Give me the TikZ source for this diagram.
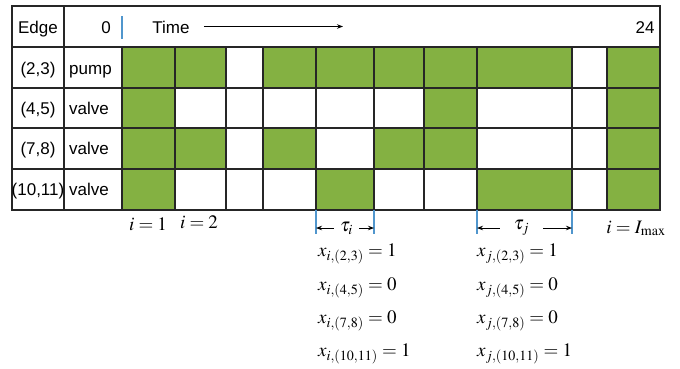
\documentclass[tikz,border=0pt]{standalone}
\usepackage{mathptmx}
\usepackage{fontspec}
\setmainfont{Liberation Sans}
\usetikzlibrary{arrows.meta}

\definecolor{cellgreen}{RGB}{132,177,66}
\definecolor{tickblue}{RGB}{80,150,205}

\begin{document}
\begin{tikzpicture}[
    x=1pt, y=-1pt,
    font=\fontsize{17}{19}\selectfont,
    >={Stealth[length=6pt,width=4.5pt]},
    txt/.style={anchor=base, inner sep=0pt},
    on/.style={fill=cellgreen},
    grid/.style={draw=black!85, line width=1.2pt},
    tick/.style={draw=tickblue, line width=1.2pt},
    span/.style={inner sep=0pt, font=\fontsize{19}{21}\selectfont},
    eq/.style={anchor=base west, inner sep=0pt, font=\fontsize{19}{21}\selectfont},
    arr/.style={->, line width=0.9pt},
  ]
    \useasboundingbox (0,0) rectangle (680,368);

    % --- green cells ---
    \fill[on] (122,47) rectangle (226,88);
    \fill[on] (263,47) rectangle (572,88);
    \fill[on] (607,47) rectangle (660,88);

    \fill[on] (122,88) rectangle (175,128);
    \fill[on] (424,88) rectangle (477,128);
    \fill[on] (607,88) rectangle (660,128);

    \fill[on] (122,128) rectangle (226,169);
    \fill[on] (263,128) rectangle (316,169);
    \fill[on] (374,128) rectangle (477,169);
    \fill[on] (607,128) rectangle (660,169);

    \fill[on] (122,169) rectangle (175,210);
    \fill[on] (316,169) rectangle (374,210);
    \fill[on] (477,169) rectangle (572,210);
    \fill[on] (607,169) rectangle (660,210);

    % --- grid ---
    \draw[grid] (12,6) rectangle (660,210);
    \draw[grid] (12,47) -- (660,47);
    \draw[grid] (12,88) -- (660,88);
    \draw[grid] (12,128) -- (660,128);
    \draw[grid] (12,169) -- (660,169);
    \draw[grid] (64,6) -- (64,210);
    \foreach \gx in {122,175,226,263,316,374,424,477,572,607}
      \draw[grid] (\gx,47) -- (\gx,210);

    % --- blue ticks ---
    \draw[tick] (122,16) -- (122,39);
    \draw[tick] (316,210) -- (316,234);
    \draw[tick] (374,210) -- (374,234);
    \draw[tick] (477,210) -- (477,234);
    \draw[tick] (572,210) -- (572,234);

    % --- header ---
    \node[txt] (edge) at (38,33) {Edge};
    \node[txt, anchor=base east] (zero) at (111,33) {0};
    \node[txt] (time) at (171,33) {Time};
    \node[txt] (end) at (645,33) {24};
    \coordinate (tend) at (343,26.5);
    \draw[arr, shorten <=14pt] (time.east |- tend) -- (tend);

    % --- row labels ---
    \node[txt] (e23) at (38,74) {(2,3)};
    \node[txt, anchor=base west] (t23) at (69,74) {pump};
    \node[txt] (e45) at (38,114) {(4,5)};
    \node[txt, anchor=base west] (t45) at (69,114) {valve};
    \node[txt] (e78) at (38,154) {(7,8)};
    \node[txt, anchor=base west] (t78) at (69,154) {valve};
    \node[txt] (e1011) at (38,195) {(10,11)};
    \node[txt, anchor=base west] (t1011) at (69,195) {valve};

    % --- interval indices ---
    \node[txt, span] (i1) at (148,230) {$i=1$};
    \node[txt, span] (i2) at (199,228) {$i=2$};
    \node[txt, span] (imax) at (636,233) {$i=I_{\max}$};

    % --- interval lengths ---
    \coordinate (ti1) at (316,228);
    \coordinate (ti2) at (374,228);
    \coordinate (tj1) at (477,228);
    \coordinate (tj2) at (572,228);
    \node[span, minimum width=25pt] (taui) at (346.5,228) {$\tau_i$};
    \node[span, minimum width=43pt] (tauj) at (521.5,228) {$\tau_j$};
    \draw[arr] (taui) -- (ti1);
    \draw[arr] (taui) -- (ti2);
    \draw[arr] (tauj) -- (tj1);
    \draw[arr] (tauj) -- (tj2);

    % --- states ---
    \node[eq] (xi23) at (318,256) {$x_{i,(2,3)}=1$};
    \node[eq] (xi45) at (318,290) {$x_{i,(4,5)}=0$};
    \node[eq] (xi78) at (318,323) {$x_{i,(7,8)}=0$};
    \node[eq] (xi1011) at (318,356) {$x_{i,(10,11)}=1$};
    \node[eq] (xj23) at (477,256) {$x_{j,(2,3)}=1$};
    \node[eq] (xj45) at (477,290) {$x_{j,(4,5)}=0$};
    \node[eq] (xj78) at (477,323) {$x_{j,(7,8)}=0$};
    \node[eq] (xj1011) at (477,356) {$x_{j,(10,11)}=1$};
  \end{tikzpicture}
\end{document}
